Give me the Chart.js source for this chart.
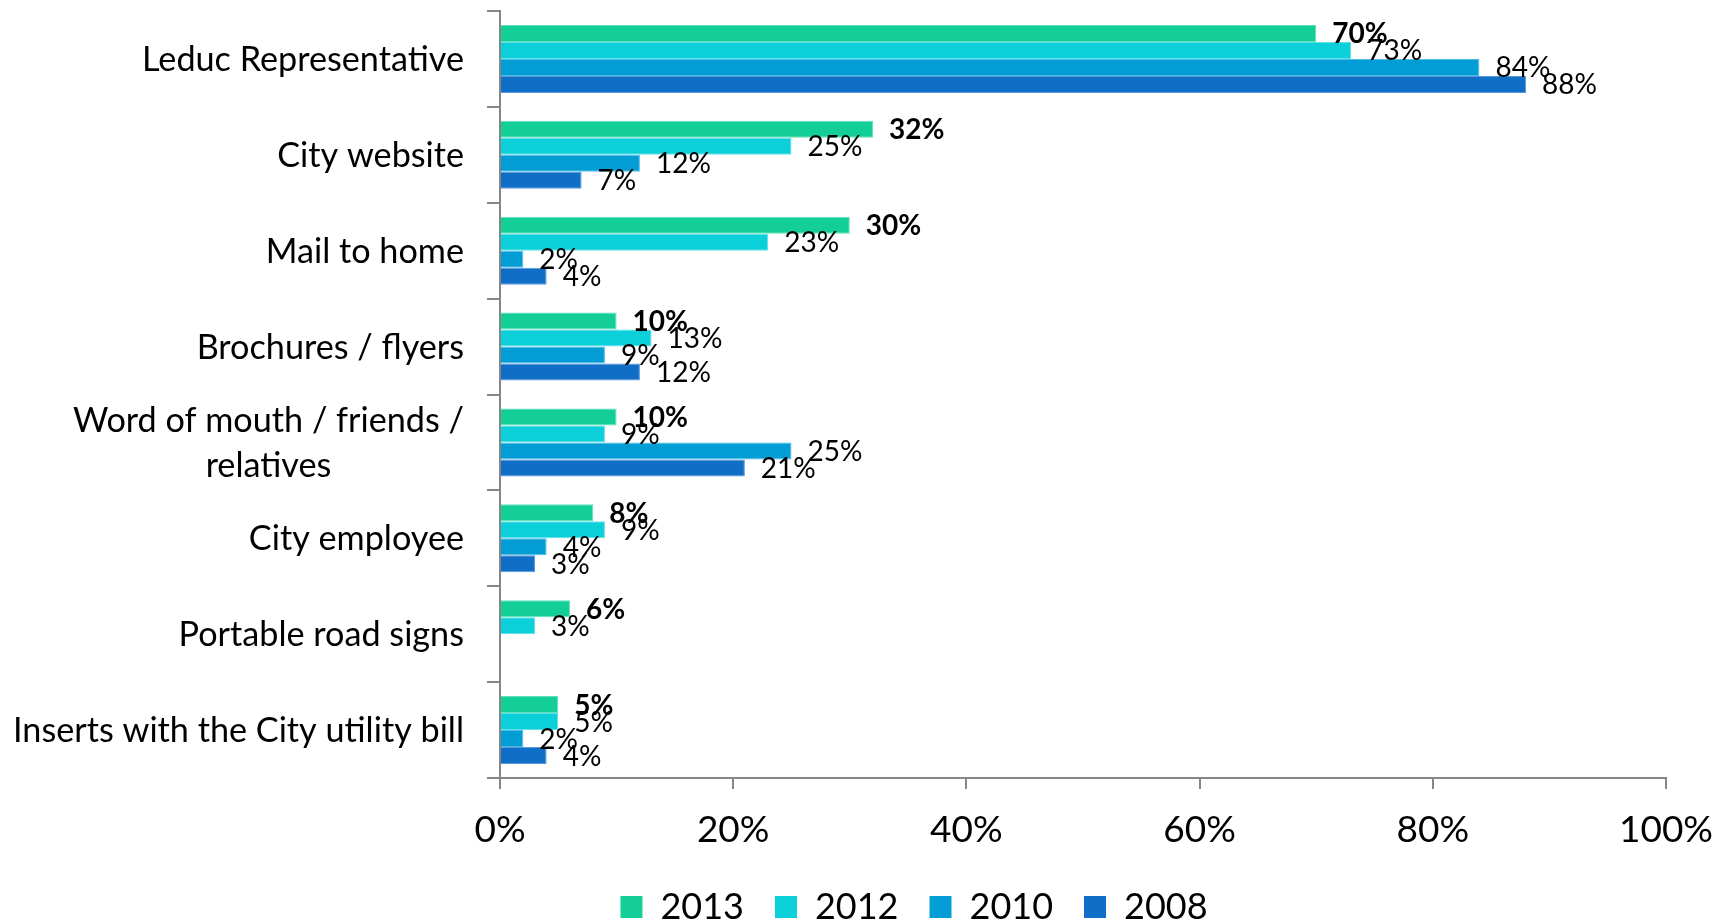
<!DOCTYPE html>
<html>
<head>
<meta charset="utf-8">
<script src="https://cdn.jsdelivr.net/npm/chart.js@4.4.1/dist/chart.umd.min.js"></script>
<style>
  html, body { margin: 0; padding: 0; background: #ffffff; }
  #wrap { width: 1728px; height: 923px; }
</style>
</head>
<body>
<div id="wrap"><canvas id="c" width="1728" height="923"></canvas></div>
<script>
const categories = [
  "Leduc Representative",
  "City website",
  "Mail to home",
  "Brochures / flyers",
  ["Word of mouth / friends /", "relatives"],
  "City employee",
  "Portable road signs",
  "Inserts with the City utility bill"
];
const seriesNames = ["2013", "2012", "2010", "2008"];
const values2013 = [70, 32, 30, 10, 10, 8, 6, 5];
const values2012 = [73, 25, 23, 13, 9, 9, 3, 5];
const values2010 = [84, 12, 2, 9, 25, 4, null, 2];
const values2008 = [88, 7, 4, 12, 21, 3, null, 4];
const xTickValues = [0, 20, 40, 60, 80, 100];

const colors = ["#13CF97", "#0BCFD9", "#039DD6", "#106EC7"];
const edgeColors = ["#5FE0B8", "#5EE2E8", "#4DBDE6", "#5A98D9"];
const FONT = "Lato, 'Open Sans', sans-serif";

const seriesValues = [values2013, values2012, values2010, values2008];

const dataLabelPlugin = {
  id: 'dataLabels',
  afterDatasetsDraw(chart) {
    const ctx = chart.ctx;
    ctx.save();
    ctx.textAlign = 'left';
    ctx.textBaseline = 'middle';
    ctx.fillStyle = '#000';
    chart.data.datasets.forEach((ds, di) => {
      const meta = chart.getDatasetMeta(di);
      ctx.font = (di === 0 ? 'bold ' : '') + '28px ' + FONT;
      meta.data.forEach((el, i) => {
        const v = ds.data[i];
        if (v === null || v === undefined) return;
        ctx.fillText(v + '%', el.x + 16, el.y + 1);
      });
    });
    ctx.restore();
  }
};

const categoryLabelPlugin = {
  id: 'catLabels',
  afterDraw(chart) {
    const ctx = chart.ctx;
    const scale = chart.scales.y;
    const rightEdge = chart.chartArea.left - 36;
    ctx.save();
    ctx.font = '34.2px ' + FONT;
    ctx.fillStyle = '#000';
    ctx.textBaseline = 'middle';
    ctx.textAlign = 'center';
    categories.forEach((lab, i) => {
      const lines = Array.isArray(lab) ? lab : [lab];
      const w = Math.max(...lines.map(l => ctx.measureText(l).width));
      const cx = rightEdge - w / 2;
      const cy = scale.getPixelForTick(i) + 1;
      const lh = 45;
      const y0 = cy - (lines.length - 1) * lh / 2;
      lines.forEach((l, k) => ctx.fillText(l, cx, y0 + k * lh));
    });
    ctx.restore();
  }
};

new Chart(document.getElementById('c'), {
  type: 'bar',
  data: {
    labels: categories,
    datasets: seriesNames.map((name, i) => ({
      label: name,
      data: seriesValues[i],
      backgroundColor: colors[i],
      borderColor: edgeColors[i],
      borderWidth: 1,
      categoryPercentage: 0.71,
      barPercentage: 1.0
    }))
  },
  options: {
    indexAxis: 'y',
    responsive: false,
    devicePixelRatio: 1,
    animation: false,
    layout: { padding: { left: 162, right: 62, top: 11, bottom: -12 } },
    scales: {
      x: {
        min: 0,
        max: 100,
        afterBuildTicks(scale) {
          scale.ticks = xTickValues.map(v => ({ value: v }));
        },
        afterFit(scale) { scale.height = 80; },
        ticks: {
          callback: v => v + '%',
          color: '#000',
          font: { family: FONT, size: 37, lineHeight: 1.52 },
          padding: 13,
          maxRotation: 0
        },
        grid: {
          display: true,
          drawOnChartArea: false,
          drawTicks: true,
          tickLength: 11,
          color: '#868686',
          lineWidth: 2
        },
        border: { display: true, color: '#868686', width: 2 }
      },
      y: {
        afterFit(scale) { scale.width = 338; },
        ticks: { display: false },
        grid: {
          display: true,
          offset: true,
          drawOnChartArea: false,
          drawTicks: true,
          tickLength: 13,
          color: '#868686',
          lineWidth: 2
        },
        border: { display: true, color: '#868686', width: 2 }
      }
    },
    plugins: {
      legend: {
        position: 'bottom',
        align: 'center',
        labels: {
          boxWidth: 22,
          boxHeight: 22,
          padding: 31,
          color: '#000',
          font: { family: FONT, size: 36 },
          generateLabels(chart) {
            return chart.data.datasets.map((ds, i) => ({
              text: ds.label,
              fillStyle: colors[i],
              strokeStyle: colors[i],
              lineWidth: 0,
              hidden: false,
              datasetIndex: i,
              fontColor: '#000'
            }));
          }
        }
      },
      tooltip: { enabled: false }
    }
  },
  plugins: [dataLabelPlugin, categoryLabelPlugin]
});
</script>
</body>
</html>
